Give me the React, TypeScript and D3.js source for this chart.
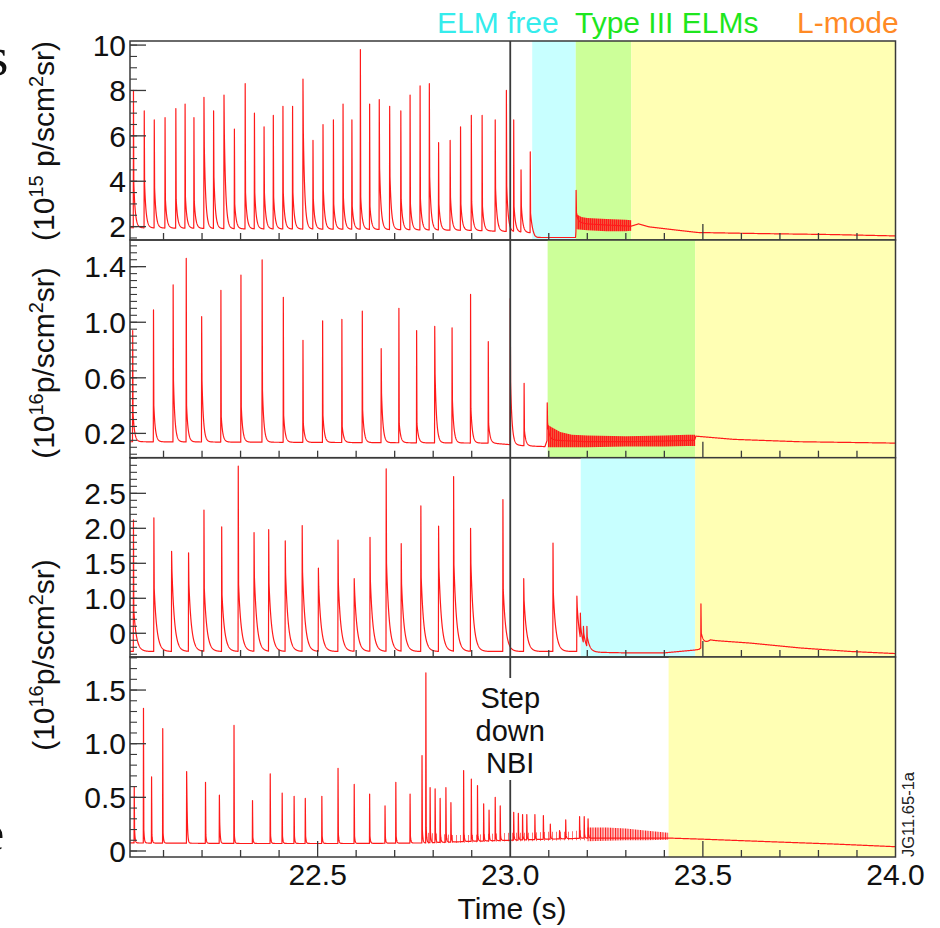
import React from "react";
import * as d3 from "d3";

const FONT = "'Liberation Sans', Arial, Helvetica, sans-serif";

// ---------- shared axis data ----------
const timeDomain: [number, number] = [22.013, 24.0];
const xTickLabelVals = [22.5, 23.0, 23.5, 24.0];
const xTickLabels = ["22.5", "23.0", "23.5", "24.0"];
const stepDownTime = 23.0;

// ---------- panel 1 (10^15 p/scm^2sr) ----------
const p1TickVals = [2, 4, 6, 8, 10];
const p1TickLabels = ["2", "4", "6", "8", "10"];
const p1ElmT = [22.022, 22.050, 22.076, 22.104, 22.132, 22.156, 22.179, 22.205, 22.230, 22.257, 22.284, 22.312, 22.336, 22.361, 22.385, 22.410, 22.435, 22.462, 22.488, 22.514, 22.541, 22.566, 22.589, 22.611, 22.635, 22.660, 22.687, 22.716, 22.740, 22.766, 22.790, 22.814, 22.844, 22.871, 22.899, 22.927, 22.961, 22.990, 23.009, 23.028, 23.052, 23.171];
const p1ElmPeak = [8.0, 7.1, 6.7, 6.8, 7.2, 7.4, 6.8, 7.7, 7.1, 7.8, 6.3, 8.3, 7.0, 6.4, 6.9, 7.3, 7.3, 8.5, 5.8, 6.5, 6.7, 7.4, 6.7, 9.8, 7.4, 7.6, 7.3, 7.1, 7.8, 8.2, 8.3, 5.7, 5.8, 6.4, 6.9, 6.9, 6.7, 8.0, 6.7, 4.5, 5.3, 3.6];
const p1ElmSec = [3.9, 3.9, 3.7, 3.2, 3.2, 3.3, 3.1, 5.5, 4.2, 6.1, 3.0, 3.5, 3.5, 3.5, 3.3, 3.5, 3.5, 6.2, 3.2, 3.6, 3.0, 3.3, 2.9, 3.3, 2.9, 4.6, 4.2, 3.2, 3.0, 3.2, 4.2, 3.0, 3.3, 3.0, 3.1, 2.9, 3.7, 3.8, 2.9, 2.9, 2.6, 2.6];
const p1BaseT = [22.013, 22.3, 22.6, 22.9, 23.0, 23.056, 23.064, 23.07, 23.1695, 23.172, 23.2, 23.25, 23.3, 23.314, 23.333, 23.36, 23.435, 23.487, 23.66, 23.835, 24.0];
const p1BaseV = [1.95, 1.9, 1.88, 1.83, 1.78, 1.72, 1.55, 1.52, 1.52, 2.2, 2.12, 2.07, 2.03, 2.02, 2.12, 1.99, 1.84, 1.74, 1.69, 1.65, 1.59];
const p1BandT = [23.172, 23.185, 23.2, 23.25, 23.3, 23.314];
const p1BandLo = [1.88, 1.86, 1.84, 1.8, 1.8, 1.82];
const p1BandHi = [2.55, 2.42, 2.38, 2.33, 2.3, 2.28];
const p1RegStart = [23.057, 23.170, 23.314];
const p1RegEnd = [23.170, 23.314, 24.0];
const p1RegKind = ["elmFree", "typeIII", "lMode"];

// ---------- panel 2 (10^16 p/scm^2sr) ----------
const p2TickVals = [0.2, 0.6, 1.0, 1.4];
const p2TickLabels = ["0.2", "0.6", "1.0", "1.4"];
const p2ElmT = [22.020, 22.074, 22.125, 22.159, 22.199, 22.249, 22.301, 22.356, 22.411, 22.462, 22.513, 22.563, 22.616, 22.665, 22.711, 22.757, 22.804, 22.849, 22.897, 22.943, 23.000, 23.036, 23.096];
const p2ElmPeak = [0.94, 1.09, 1.27, 1.46, 1.04, 1.23, 1.34, 1.45, 1.18, 0.87, 1.01, 1.02, 1.08, 0.81, 1.10, 0.94, 0.97, 0.96, 1.20, 0.86, 1.17, 0.56, 0.42];
const p2ElmSec = [0.35, 0.40, 0.58, 0.40, 0.58, 0.32, 0.39, 0.51, 0.33, 0.27, 0.33, 0.25, 0.37, 0.49, 0.27, 0.27, 0.63, 0.44, 0.38, 0.27, 0.57, 0.22, 0.28];
const p2BaseT = [22.013, 22.5, 22.95, 23.04, 23.09, 23.097, 23.12, 23.2, 23.3, 23.4, 23.478, 23.482, 23.58, 23.75, 24.0];
const p2BaseV = [0.14, 0.135, 0.13, 0.11, 0.105, 0.16, 0.15, 0.14, 0.14, 0.145, 0.15, 0.18, 0.157, 0.14, 0.13];
const p2BandT = [23.098, 23.11, 23.13, 23.16, 23.2, 23.3, 23.4, 23.46, 23.48];
const p2BandLo = [0.10, 0.10, 0.10, 0.10, 0.10, 0.105, 0.105, 0.11, 0.11];
const p2BandHi = [0.26, 0.24, 0.21, 0.19, 0.185, 0.18, 0.185, 0.19, 0.19];
const p2RegStart = [23.097, 23.480];
const p2RegEnd = [23.480, 24.0];
const p2RegKind = ["typeIII", "lMode"];

// ---------- panel 3 (10^16 p/scm^2sr) ----------
const p3TickVals = [0.5, 1.0, 1.5, 2.0, 2.5];
const p3TickLabels = ["0", "1.0", "1.5", "2.0", "2.5"];
const p3ElmT = [22.022, 22.075, 22.121, 22.165, 22.205, 22.251, 22.294, 22.335, 22.373, 22.416, 22.460, 22.502, 22.553, 22.595, 22.636, 22.678, 22.717, 22.768, 22.814, 22.853, 22.897, 22.981, 23.035, 23.111, 23.173, 23.182, 23.190, 23.199, 23.495];
const p3ElmPeak = [2.12, 2.15, 1.67, 1.65, 2.26, 2.02, 2.89, 1.94, 1.98, 1.82, 2.04, 1.43, 1.83, 1.28, 1.87, 2.85, 1.78, 2.32, 2.03, 2.74, 2.00, 2.41, 1.28, 1.79, 1.03, 0.79, 0.60, 0.60, 0.92];
const p3ElmSec = [0.83, 1.14, 1.40, 1.21, 1.14, 1.05, 1.2, 1.31, 1.21, 1.36, 1.38, 1.17, 1.21, 1.12, 1.26, 1.5, 1.21, 1.3, 1.45, 1.48, 1.5, 1.12, 0.98, 1.07, 0.88, 0.6, 0.5, 0.45, 0.5];
const p3BaseT = [22.013, 22.5, 23.0, 23.17, 23.21, 23.3, 23.4, 23.478, 23.49, 23.52, 23.623, 23.753, 23.883, 24.0];
const p3BaseV = [0.24, 0.24, 0.24, 0.24, 0.23, 0.22, 0.22, 0.26, 0.27, 0.40, 0.36, 0.29, 0.24, 0.21];
const p3RegStart = [23.183, 23.480];
const p3RegEnd = [23.480, 24.0];
const p3RegKind = ["elmFree", "lMode"];

// ---------- panel 4 (10^16 p/scm^2sr) ----------
const p4TickVals = [0, 0.5, 1.0, 1.5];
const p4TickLabels = ["0", "0.5", "1.0", "1.5"];
const p4ElmT = [22.024, 22.048, 22.069, 22.098, 22.160, 22.209, 22.245, 22.283, 22.331, 22.377, 22.408, 22.439, 22.468, 22.511, 22.553, 22.595, 22.635, 22.675, 22.703, 22.740, 22.771, 22.781, 22.792, 22.805, 22.818, 22.833, 22.846, 22.879, 22.899, 22.915, 22.931, 22.945, 22.961, 22.974, 23.009, 23.021, 23.032, 23.043, 23.064, 23.086, 23.104, 23.128, 23.144, 23.180, 23.192, 23.202];
const p4ElmPeak = [0.60, 1.33, 0.69, 1.14, 0.74, 0.64, 0.52, 1.17, 0.47, 0.72, 0.54, 0.51, 0.49, 0.51, 0.77, 0.62, 0.53, 0.42, 0.64, 0.53, 0.89, 1.66, 0.59, 0.58, 0.49, 0.59, 0.45, 0.75, 0.67, 0.61, 0.44, 0.38, 0.50, 0.42, 0.36, 0.35, 0.34, 0.34, 0.34, 0.33, 0.25, 0.19, 0.29, 0.32, 0.32, 0.30];
const p4ElmSec = [0.2, 0.2, 0.15, 0.17, 0.49, 0.15, 0.27, 0.15, 0.13, 0.15, 0.14, 0.14, 0.14, 0.14, 0.16, 0.14, 0.14, 0.13, 0.14, 0.14, 0.2, 0.22, 0.18, 0.18, 0.16, 0.17, 0.16, 0.17, 0.17, 0.16, 0.16, 0.15, 0.16, 0.15, 0.15, 0.15, 0.15, 0.15, 0.15, 0.15, 0.15, 0.14, 0.15, 0.16, 0.16, 0.16];
const p4BaseT = [22.013, 22.3, 22.6, 22.78, 22.9, 23.0, 23.1, 23.2, 23.3, 23.41, 23.415, 23.5, 23.67, 23.84, 24.0];
const p4BaseV = [0.075, 0.07, 0.07, 0.075, 0.09, 0.10, 0.11, 0.12, 0.12, 0.12, 0.12, 0.11, 0.087, 0.065, 0.04];
const p4SparseT = [22.785, 22.85, 22.9, 22.95, 23.0, 23.05, 23.1, 23.15, 23.2];
const p4SparseLo = [0.07, 0.075, 0.08, 0.085, 0.09, 0.09, 0.095, 0.1, 0.1];
const p4SparseHi = [0.17, 0.15, 0.15, 0.16, 0.17, 0.17, 0.18, 0.18, 0.2];
const p4DenseT = [23.2, 23.25, 23.3, 23.35, 23.41];
const p4DenseLo = [0.09, 0.095, 0.1, 0.1, 0.105];
const p4DenseHi = [0.22, 0.22, 0.21, 0.19, 0.17];
const p4RegStart = [23.411];
const p4RegEnd = [24.0];
const p4RegKind = ["lMode"];

// ---------- labels ----------
const phaseLabels = ["ELM free", "Type III ELMs", "L-mode"];
const phaseKinds = ["elmFree", "typeIII", "lMode"];
const stepLabel = ["Step", "down", "NBI"];
const figId = "JG11.65-1a";

const REGION_FILL: Record<string, string> = { elmFree: "#c8ffff", typeIII: "#ccff99", lMode: "#ffffb4" };
const PHASE_TEXT: Record<string, string> = { elmFree: "#35ecec", typeIII: "#1ee61e", lMode: "#ff8a25" };
const PHASE_X = [437, 575, 797];

const X0 = 130, X1 = 895.5;
const x = d3.scaleLinear().domain(timeDomain).range([X0, X1]);

function buildTrace(elmT: number[], elmPeak: number[], elmSec: number[], baseT: number[], baseV: number[], tau: number): [number, number][] {
  const base = d3.scaleLinear().domain(baseT).range(baseV).clamp(true);
  const rise = 0.0005, fall = 0.0009;
  const times: number[] = [];
  for (let t = timeDomain[0]; t <= timeDomain[1]; t += 0.0004) times.push(t);
  elmT.forEach((ti) => times.push(ti - rise, ti, ti + fall));
  times.sort((a, b) => a - b);
  const starts = elmT.map((t) => t - rise);
  const after = (j: number, tt: number): number => {
    if (j < 0) return base(tt);
    const tj = elmT[j];
    if (tt <= tj) return elmPeak[j];
    if (tt < tj + fall) return elmPeak[j] + (elmSec[j] - elmPeak[j]) * (tt - tj) / fall;
    const r = elmSec[j] - base(tj + fall);
    return base(tt) + r * Math.exp(-(tt - tj - fall) / tau);
  };
  const value = (t: number) => {
    const i = d3.bisectRight(starts, t) - 1;
    if (i < 0) return base(t);
    const ti = elmT[i];
    if (t < ti) {
      const s = after(i - 1, ti - rise);
      return s + (elmPeak[i] - s) * (t - (ti - rise)) / rise;
    }
    return after(i, t);
  };
  return times.filter((t) => t >= timeDomain[0] && t <= timeDomain[1]).map((t) => [t, value(t)] as [number, number]);
}

type Band = { t: number[]; lo: number[]; hi: number[]; pattern: string };
type Panel = {
  top: number; bottom: number; yDomain: [number, number];
  tickVals: number[]; tickLabels: string[]; minorStep: number;
  elmT: number[]; elmPeak: number[]; elmSec: number[]; baseT: number[]; baseV: number[]; tau: number;
  bands: Band[]; regStart: number[]; regEnd: number[]; regKind: string[]; longX: number[];
};

const panels: Panel[] = [
  { top: 41, bottom: 240, yDomain: [1.41, 10.18], tickVals: p1TickVals, tickLabels: p1TickLabels, minorStep: 0.5,
    elmT: p1ElmT, elmPeak: p1ElmPeak, elmSec: p1ElmSec, baseT: p1BaseT, baseV: p1BaseV, tau: 0.004,
    bands: [{ t: p1BandT, lo: p1BandLo, hi: p1BandHi, pattern: "noiseDense" }],
    regStart: p1RegStart, regEnd: p1RegEnd, regKind: p1RegKind, longX: [23.5] },
  { top: 240, bottom: 457.7, yDomain: [0.025, 1.592], tickVals: p2TickVals, tickLabels: p2TickLabels, minorStep: 0.05,
    elmT: p2ElmT, elmPeak: p2ElmPeak, elmSec: p2ElmSec, baseT: p2BaseT, baseV: p2BaseV, tau: 0.004,
    bands: [{ t: p2BandT, lo: p2BandLo, hi: p2BandHi, pattern: "noiseDense" }],
    regStart: p2RegStart, regEnd: p2RegEnd, regKind: p2RegKind, longX: [23.5] },
  { top: 457.7, bottom: 657, yDomain: [0.161, 3.009], tickVals: p3TickVals, tickLabels: p3TickLabels, minorStep: 0.1,
    elmT: p3ElmT, elmPeak: p3ElmPeak, elmSec: p3ElmSec, baseT: p3BaseT, baseV: p3BaseV, tau: 0.007,
    bands: [], regStart: p3RegStart, regEnd: p3RegEnd, regKind: p3RegKind, longX: [23.5] },
  { top: 657, bottom: 857, yDomain: [-0.056, 1.808], tickVals: p4TickVals, tickLabels: p4TickLabels, minorStep: 0.1,
    elmT: p4ElmT, elmPeak: p4ElmPeak, elmSec: p4ElmSec, baseT: p4BaseT, baseV: p4BaseV, tau: 0.0015,
    bands: [{ t: p4SparseT, lo: p4SparseLo, hi: p4SparseHi, pattern: "noiseSparse" }, { t: p4DenseT, lo: p4DenseLo, hi: p4DenseHi, pattern: "noiseMid" }],
    regStart: p4RegStart, regEnd: p4RegEnd, regKind: p4RegKind, longX: [22.5, 23.5] },
];

const RED = "#ff1a1a";
const AXIS = "#3a3a3a";

function PanelView({ p, idx }: { p: Panel; idx: number }) {
  const y = d3.scaleLinear().domain(p.yDomain).range([p.bottom, p.top]);
  const pts = buildTrace(p.elmT, p.elmPeak, p.elmSec, p.baseT, p.baseV, p.tau);
  const line = d3.line<[number, number]>().x((d) => x(d[0])).y((d) => y(d[1]));
  const minors = d3.range(Math.ceil(p.yDomain[0] / p.minorStep) * p.minorStep, p.yDomain[1], p.minorStep);
  const xMinors = d3.range(22.1, 23.95, 0.1).filter((t) => Math.abs(t - stepDownTime) > 0.01);
  const clipId = `clip${idx}`;
  return (
    <g>
      <defs>
        <clipPath id={clipId}><rect x={X0} y={p.top} width={X1 - X0} height={p.bottom - p.top} /></clipPath>
      </defs>
      {p.regStart.map((s, i) => (
        <rect key={i} x={x(s)} y={p.top} width={x(p.regEnd[i]) - x(s)} height={p.bottom - p.top} fill={REGION_FILL[p.regKind[i]]} />
      ))}
      <g clipPath={`url(#${clipId})`}>
        <path d={line(pts) || ""} fill="none" stroke={RED} strokeWidth={1.2} strokeLinejoin="round" />
        {p.bands.map((b, i) => {
          const rows = b.t.map((t, k) => ({ t, lo: b.lo[k], hi: b.hi[k] }));
          const area = d3.area<{ t: number; lo: number; hi: number }>().x((d) => x(d.t)).y0((d) => y(d.lo)).y1((d) => y(d.hi));
          return <path key={i} d={area(rows) || ""} fill={`url(#${b.pattern})`} />;
        })}
      </g>
      {minors.map((v, i) => (
        <line key={"m" + i} x1={X0} x2={X0 + 7} y1={y(v)} y2={y(v)} stroke={AXIS} strokeWidth={1.1} />
      ))}
      {p.tickVals.map((v, i) => (
        <g key={"t" + i}>
          <line x1={X0} x2={X0 + 16} y1={y(v)} y2={y(v)} stroke={AXIS} strokeWidth={1.3} />
          <text x={126} y={y(v)} dy="0.36em" textAnchor="end" fontSize={30} fontFamily={FONT} fill="#111">{p.tickLabels[i]}</text>
        </g>
      ))}
      {xMinors.map((t, i) => {
        const long = p.longX.some((l) => Math.abs(l - t) < 0.01);
        return <line key={"x" + i} x1={x(t)} x2={x(t)} y1={p.bottom} y2={p.bottom - (long ? 16 : 7)} stroke={AXIS} strokeWidth={1.3} />;
      })}
      <rect x={X0} y={p.top} width={X1 - X0} height={p.bottom - p.top} fill="none" stroke={AXIS} strokeWidth={1.5} />
    </g>
  );
}

export default function App() {
  const p4 = panels[3];
  const serif = "'Liberation Serif', 'DejaVu Serif', serif";
  return (
    <svg width={940} height={928} style={{ position: "absolute", left: 0, top: 0, background: "#fff" }} fontFamily={FONT}>
      <defs>
        <pattern id="noiseDense" patternUnits="userSpaceOnUse" width={2} height={6}>
          <rect x={0} y={0} width={2} height={6} fill={RED} fillOpacity={0.7} />
          <rect x={0} y={0} width={1.1} height={6} fill={RED} />
        </pattern>
        <pattern id="noiseMid" patternUnits="userSpaceOnUse" width={2.5} height={6}>
          <rect x={0} y={0} width={2.5} height={6} fill={RED} fillOpacity={0.25} />
          <rect x={0} y={0} width={1} height={6} fill={RED} />
        </pattern>
        <pattern id="noiseSparse" patternUnits="userSpaceOnUse" width={4} height={6}>
          <rect x={0} y={0} width={0.9} height={6} fill={RED} fillOpacity={0.7} />
        </pattern>
      </defs>
      <rect x={0} y={0} width={940} height={928} fill="#fff" />
      {panels.map((p, i) => <PanelView key={i} p={p} idx={i} />)}
      <line x1={x(stepDownTime)} x2={x(stepDownTime)} y1={41} y2={678} stroke={AXIS} strokeWidth={1.8} />
      <line x1={x(stepDownTime)} x2={x(stepDownTime)} y1={780} y2={p4.bottom} stroke={AXIS} strokeWidth={1.8} />
      {stepLabel.map((s, i) => (
        <text key={i} x={x(stepDownTime)} y={708 + i * 32.5} textAnchor="middle" fontSize={29} fill="#111">{s}</text>
      ))}
      {xTickLabelVals.map((t, i) => (
        <text key={i} x={x(t)} y={885} textAnchor="middle" fontSize={30} fill="#111">{xTickLabels[i]}</text>
      ))}
      <text x={512} y={919} textAnchor="middle" fontSize={30} fill="#111">Time (s)</text>
      {phaseLabels.map((s, i) => (
        <text key={i} x={PHASE_X[i]} y={33} fontSize={30} fill={PHASE_TEXT[phaseKinds[i]]}>{s}</text>
      ))}
      <text transform="translate(54,141) rotate(-90)" textAnchor="middle" fontSize={30} fill="#111">
        (10<tspan dy={-11} fontSize={20}>15</tspan><tspan dy={11}>{" p/scm"}</tspan><tspan dy={-11} fontSize={20}>2</tspan><tspan dy={11}>sr)</tspan>
      </text>
      <text transform="translate(54,363) rotate(-90)" textAnchor="middle" fontSize={30} fill="#111">
        (10<tspan dy={-11} fontSize={20}>16</tspan><tspan dy={11}>p/scm</tspan><tspan dy={-11} fontSize={20}>2</tspan><tspan dy={11}>sr)</tspan>
      </text>
      <text transform="translate(54,655) rotate(-90)" textAnchor="middle" fontSize={30} fill="#111">
        (10<tspan dy={-11} fontSize={20}>16</tspan><tspan dy={11}>p/scm</tspan><tspan dy={-11} fontSize={20}>2</tspan><tspan dy={11}>sr)</tspan>
      </text>
      <text transform="translate(914,857) rotate(-90)" fontSize={16.5} fill="#222">{figId}</text>
      <text x={-13} y={75} fontSize={55} fontFamily={serif} fill="#111">s</text>
      <text x={-18} y={850} fontSize={50} fontFamily={serif} fill="#111">e</text>
    </svg>
  );
}
